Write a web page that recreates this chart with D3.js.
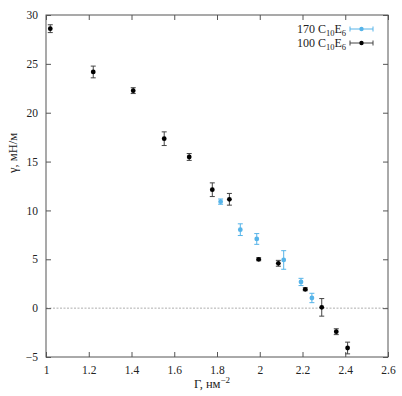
<!DOCTYPE html>
<html>
<head>
<meta charset="utf-8">
<script src="https://cdn.jsdelivr.net/npm/d3@7"></script>
<style>
	body { margin: 0; background: #fff; }
	svg text { font-family: "Liberation Serif", "Times New Roman", "DejaVu Serif", serif !important; fill: #222; }
</style>
</head>
<body>
<svg id="plot" width="402" height="396"></svg>
<script>

// series: 100 C10E6 (black)
const BLACK_X = [1.02, 1.221, 1.408, 1.553, 1.670, 1.778, 1.858, 1.995, 2.087, 2.213, 2.290, 2.358, 2.411];
const BLACK_Y = [28.6, 24.17, 22.26, 17.34, 15.47, 12.12, 11.14, 5.0, 4.59, 1.93, 0.08, -2.41, -4.08];
const BLACK_ERR = [0.4, 0.6, 0.3, 0.7, 0.35, 0.7, 0.6, 0.15, 0.3, 0.15, 0.9, 0.3, 0.6];

// series: 170 C10E6 (blue)
const BLUE_X = [1.817, 1.909, 1.986, 2.112, 2.193, 2.244];
const BLUE_Y = [10.9, 8.03, 7.08, 4.93, 2.68, 1.04];
const BLUE_ERR = [0.27, 0.6, 0.55, 0.95, 0.37, 0.48];

const X_TICKS = [1, 1.2, 1.4, 1.6, 1.8, 2, 2.2, 2.4, 2.6];
const Y_TICKS = [-5, 0, 5, 10, 15, 20, 25, 30];

const BLUE = "#56b4e9";
const BLACK = "#000";

function whenDocumentLoaded(action) {
	if (document.readyState === "loading") {
		document.addEventListener("DOMContentLoaded", action);
	} else {
		action();
	}
}

function drawSeries(svg, x, y, xs, ys, errs, color, barColor) {
	const data = xs.map((v, i) => ({x: v, y: ys[i], e: errs[i]}));
	const g = svg.append("g");
	const cap = 2.5;
	data.forEach((d) => {
		const cx = x(d.x), y1 = y(d.y + d.e), y2 = y(d.y - d.e);
		g.append("line").attr("x1", cx).attr("x2", cx).attr("y1", y1).attr("y2", y2)
			.attr("stroke", barColor).attr("stroke-width", 1);
		g.append("line").attr("x1", cx - cap).attr("x2", cx + cap).attr("y1", y1).attr("y2", y1)
			.attr("stroke", barColor).attr("stroke-width", 1);
		g.append("line").attr("x1", cx - cap).attr("x2", cx + cap).attr("y1", y2).attr("y2", y2)
			.attr("stroke", barColor).attr("stroke-width", 1);
	});
	g.selectAll("circle")
		.data(data)
		.enter().append("circle")
		.attr("cx", (d) => x(d.x))
		.attr("cy", (d) => y(d.y))
		.attr("r", 2.4)
		.attr("fill", color);
}

whenDocumentLoaded(() => {
	const left = 46, right = 388, top = 15, bottom = 357;
	const x = d3.scaleLinear().domain([1, 2.6]).range([left, right]);
	const y = d3.scaleLinear().domain([-5, 30]).range([bottom, top]);

	const svg = d3.select("#plot");
	const fmt = (d) => d < 0 ? "\u2212" + Math.abs(d) : `${d}`;

	// zero line
	svg.append("line")
		.attr("x1", left).attr("x2", right).attr("y1", y(0)).attr("y2", y(0))
		.attr("stroke", "#999").attr("stroke-width", 0.8).attr("stroke-dasharray", "2,1.5");

	// axes: ticks pointing inward on all sides
	const axStyle = (g) => {
		g.attr("font-family", null);
		g.select(".domain").remove();
		g.selectAll(".tick line").attr("stroke", "#555");
		g.selectAll(".tick text").attr("font-size", 11.5).attr("fill", "#222");
	};
	svg.append("g").attr("transform", `translate(0,${bottom})`)
		.call(d3.axisBottom(x).tickValues(X_TICKS).tickSize(-5).tickPadding(9).tickFormat(fmt))
		.call(axStyle);
	svg.append("g").attr("transform", `translate(0,${top})`)
		.call(d3.axisTop(x).tickValues(X_TICKS).tickSize(-5).tickFormat(""))
		.call(axStyle);
	svg.append("g").attr("transform", `translate(${left},0)`)
		.call(d3.axisLeft(y).tickValues(Y_TICKS).tickSize(-5).tickPadding(8).tickFormat(fmt))
		.call(axStyle);
	svg.append("g").attr("transform", `translate(${right},0)`)
		.call(d3.axisRight(y).tickValues(Y_TICKS).tickSize(-5).tickFormat(""))
		.call(axStyle);

	svg.append("rect")
		.attr("x", left).attr("y", top).attr("width", right - left).attr("height", bottom - top)
		.attr("fill", "none").attr("stroke", "#555").attr("stroke-width", 1);

	drawSeries(svg, x, y, BLUE_X, BLUE_Y, BLUE_ERR, BLUE, BLUE);
	drawSeries(svg, x, y, BLACK_X, BLACK_Y, BLACK_ERR, BLACK, "#444");

	// axis titles
	const xt = svg.append("text").attr("x", 212).attr("y", 388)
		.attr("text-anchor", "middle").attr("font-size", 12.5);
	xt.append("tspan").text("\u0393, нм");
	xt.append("tspan").attr("dy", -5).attr("font-size", 9).text("\u22122");

	svg.append("text")
		.attr("transform", "translate(17,153) rotate(-90)")
		.attr("text-anchor", "middle").attr("font-size", 12.5)
		.text("\u03b3, мН/м");

	// legend
	const legend = [
		{label: "170", color: BLUE, bar: BLUE},
		{label: "100", color: BLACK, bar: "#444"}
	];
	legend.forEach((d, i) => {
		const ly = 29 + i * 14;
		const t = svg.append("text").attr("x", 346).attr("y", ly + 4)
			.attr("text-anchor", "end").attr("font-size", 12);
		t.append("tspan").text(`${d.label} C`);
		t.append("tspan").attr("dy", 3).attr("font-size", 8.5).text("10");
		t.append("tspan").attr("dy", -3).text("E");
		t.append("tspan").attr("dy", 3).attr("font-size", 8.5).text("6");
		const g = svg.append("g");
		g.append("line").attr("x1", 350).attr("x2", 373).attr("y1", ly).attr("y2", ly)
			.attr("stroke", d.bar).attr("stroke-width", 1);
		[350, 373].forEach((cx) => {
			g.append("line").attr("x1", cx).attr("x2", cx).attr("y1", ly - 2.5).attr("y2", ly + 2.5)
				.attr("stroke", d.bar).attr("stroke-width", 1);
		});
		g.append("circle").attr("cx", 361.5).attr("cy", ly).attr("r", 2.2).attr("fill", d.color);
	});
});
</script>
</body>
</html>
